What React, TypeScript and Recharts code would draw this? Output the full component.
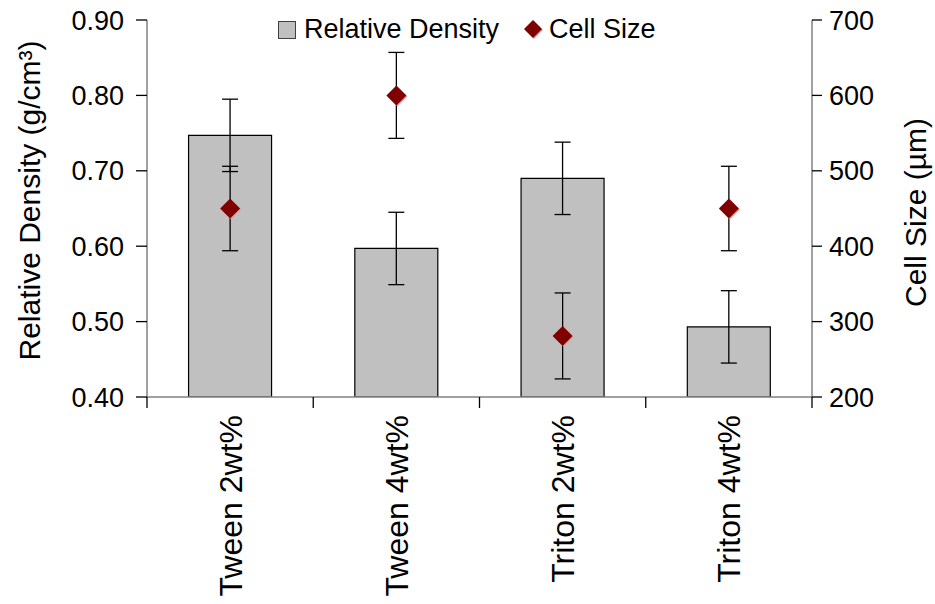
import { ComposedChart, Bar, Scatter, ErrorBar, XAxis, YAxis } from 'recharts'

// ── Data ─────────────────────────────────────────────────
const categories = ['Tween 2wt%', 'Tween 4wt%', 'Triton 2wt%', 'Triton 4wt%']
const density = [0.747, 0.597, 0.69, 0.493]
const densityErr = [0.048, 0.048, 0.048, 0.048]
const cellSize = [450, 600, 281, 450]
const cellSizeErr = [56, 57, 57, 56]

const densityTicks = [0.4, 0.5, 0.6, 0.7, 0.8, 0.9]
const cellTicks = [200, 300, 400, 500, 600, 700]

const data = categories.map((name, i) => ({
  name,
  density: density[i],
  densityErr: densityErr[i],
  cell: cellSize[i],
  cellErr: cellSizeErr[i],
}))

const FONT = '"Liberation Sans", Arial, sans-serif'
const BAR_FILL = '#c0c0c0'
const DIAMOND = '#800000'

function Diamond({ cx, cy, r = 10 }: { cx?: number; cy?: number; r?: number }) {
  if (cx == null || cy == null) return null
  return (
    <g>
      <polygon
        points={`${cx + 1},${cy - r + 1} ${cx + r + 1},${cy + 1} ${cx + 1},${cy + r + 1} ${cx - r + 1},${cy + 1}`}
        fill="#d8a0a0"
      />
      <polygon points={`${cx},${cy - r} ${cx + r},${cy} ${cx},${cy + r} ${cx - r},${cy}`} fill={DIAMOND} />
    </g>
  )
}

// category label + tick marks on the category edges (Excel style)
function CategoryTick({ x, y, payload, index }: any) {
  const half = payload.offset ?? 0
  const last = index === categories.length - 1
  return (
    <g>
      <line x1={x - half} y1={y} x2={x - half} y2={y + 11} stroke="#000" strokeWidth={1.3} />
      {last && <line x1={x + half} y1={y} x2={x + half} y2={y + 11} stroke="#000" strokeWidth={1.3} />}
      <text
        x={x}
        y={y + 18}
        dy="0.36em"
        textAnchor="end"
        transform={`rotate(-90 ${x} ${y + 18})`}
        fontSize={32}
        fontFamily={FONT}
        fill="#000"
      >
        {payload.value}
      </text>
    </g>
  )
}

function AxisTitle({ viewBox, value, cx, shift = 0 }: any) {
  const cy = viewBox.y + viewBox.height / 2 + shift
  return (
    <text
      x={cx}
      y={cy}
      dy="0.36em"
      textAnchor="middle"
      transform={`rotate(-90 ${cx} ${cy})`}
      fontSize={30}
      fontFamily={FONT}
      fill="#000"
    >
      {value}
    </text>
  )
}

export default function App() {
  const tickStyle = { fontSize: 27, fontFamily: FONT, fill: '#000' }
  return (
    <div style={{ position: 'absolute', left: 0, top: 0, width: 935, height: 604, background: '#fff' }}>
      <ComposedChart
        width={935}
        height={604}
        data={data}
        margin={{ top: 20, right: 0, bottom: 0, left: 0 }}
        barCategoryGap="25%"
      >
        <XAxis
          dataKey="name"
          height={207}
          axisLine={{ stroke: '#808080', strokeWidth: 1.5 }}
          tickLine={false}
          tickSize={0}
          tickMargin={0}
          tick={<CategoryTick />}
          interval={0}
        />
        <YAxis
          yAxisId="left"
          width={147}
          domain={[0.4, 0.9]}
          ticks={densityTicks}
          tickFormatter={(v: number) => v.toFixed(2)}
          tick={tickStyle}
          tickSize={11}
          tickMargin={12}
          axisLine={{ stroke: '#808080', strokeWidth: 1.5 }}
          tickLine={{ stroke: '#000', strokeWidth: 1.3 }}
          allowDataOverflow
          label={<AxisTitle value="Relative Density (g/cm³)" cx={29} shift={-8} />}
        />
        <YAxis
          yAxisId="right"
          orientation="right"
          width={123}
          domain={[200, 700]}
          ticks={cellTicks}
          tick={tickStyle}
          tickSize={10}
          tickMargin={7}
          axisLine={{ stroke: '#808080', strokeWidth: 1.5 }}
          tickLine={{ stroke: '#000', strokeWidth: 1.3 }}
          allowDataOverflow
          label={<AxisTitle value="Cell Size (µm)" cx={915} shift={4} />}
        />
        <Bar yAxisId="left" dataKey="density" fill={BAR_FILL} stroke="#000" strokeWidth={1.2} isAnimationActive={false}>
          <ErrorBar dataKey="densityErr" width={8} stroke="#000" strokeWidth={1.3} direction="y" />
        </Bar>
        <Scatter yAxisId="right" dataKey="cell" shape={<Diamond />} isAnimationActive={false}>
          <ErrorBar dataKey="cellErr" width={8} stroke="#000" strokeWidth={1.3} direction="y" />
        </Scatter>
      </ComposedChart>
      <div
        style={{
          position: 'absolute',
          left: 278,
          top: 14,
          display: 'flex',
          alignItems: 'center',
          fontFamily: FONT,
          fontSize: 27,
          color: '#000',
          whiteSpace: 'nowrap',
        }}
      >
        <span style={{ width: 16, height: 16, background: BAR_FILL, border: '1px solid #404040', marginRight: 8 }} />
        <span>Relative Density</span>
        <svg width={22} height={22} style={{ marginLeft: 24, marginRight: 4 }}>
          <Diamond cx={10} cy={10} r={9} />
        </svg>
        <span>Cell Size</span>
      </div>
    </div>
  )
}
